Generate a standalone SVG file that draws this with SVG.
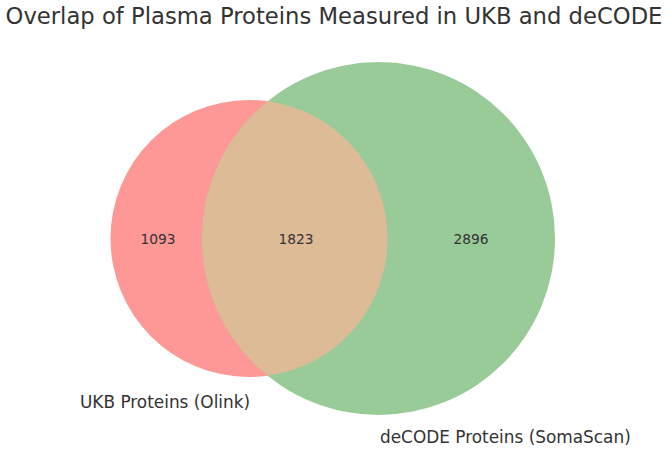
<svg xmlns="http://www.w3.org/2000/svg" width="669" height="454" viewBox="0 0 669 454">
<style>
text{font-family:"DejaVu Sans",sans-serif;fill:#333}
.num{font-size:13.8px;text-anchor:middle;dominant-baseline:central}
.lbl{font-size:16.9px}
</style>
<defs><clipPath id="cr"><circle cx="249" cy="238.5" r="138.5"/></clipPath></defs>
<rect width="669" height="454" fill="#fff"/>
<text x="334" y="24" font-size="22.7" text-anchor="middle">Overlap of Plasma Proteins Measured in UKB and deCODE</text>
<g id="ukb"><circle cx="249" cy="238.5" r="138.5" fill="#fe9897"/></g>
<g id="decode"><circle cx="378.5" cy="238.5" r="176.5" fill="#99cb98"/></g>
<g id="overlap"><circle cx="378.5" cy="238.5" r="176.5" fill="#ddbb97" clip-path="url(#cr)"/></g>
<text class="num" x="158" y="239">1093</text>
<text class="num" x="296" y="239">1823</text>
<text class="num" x="471" y="239">2896</text>
<text class="lbl" x="80" y="408">UKB Proteins (Olink)</text>
<text class="lbl" x="380" y="443">deCODE Proteins (SomaScan)</text>
</svg>
